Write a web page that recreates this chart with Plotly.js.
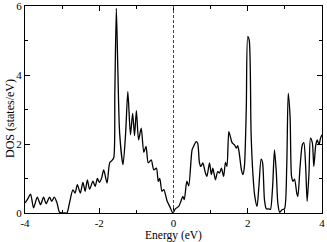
<!DOCTYPE html>
<html><head><meta charset="utf-8">
<script src="https://cdn.plot.ly/plotly-3.0.1.min.js"></script>
<style>html,body{margin:0;padding:0;background:#fff}</style>
</head><body><div id="chart" style="width:327px;height:242px"></div>
<script>
const energy = [-4.0,-3.93,-3.85,-3.77,-3.67,-3.58,-3.5,-3.43,-3.34,-3.28,-3.21,-3.14,-3.07,-3.0,-2.93,-2.87,-2.8,-2.71,-2.65,-2.59,-2.51,-2.44,-2.38,-2.32,-2.26,-2.17,-2.11,-2.05,-2.0,-1.94,-1.88,-1.79,-1.72,-1.66,-1.61,-1.58,-1.54,-1.5,-1.45,-1.36,-1.29,-1.23,-1.16,-1.1,-1.05,-1.0,-0.94,-0.87,-0.8,-0.74,-0.68,-0.6,-0.53,-0.46,-0.41,-0.37,-0.31,-0.26,-0.17,-0.08,-0.02,0.05,0.14,0.2,0.25,0.29,0.36,0.41,0.5,0.54,0.61,0.65,0.7,0.74,0.79,0.86,0.9,0.97,1.02,1.06,1.13,1.19,1.24,1.29,1.35,1.4,1.44,1.49,1.53,1.58,1.64,1.69,1.73,1.77,1.83,1.87,1.91,1.96,2.0,2.04,2.09,2.14,2.19,2.25,2.3,2.36,2.4,2.45,2.5,2.57,2.61,2.67,2.72,2.77,2.81,2.86,2.93,2.99,3.05,3.09,3.14,3.18,3.22,3.26,3.32,3.35,3.41,3.47,3.51,3.56,3.6,3.65,3.69,3.74,3.78,3.83,3.87,3.92,3.96,4.0];
const dos = [0.29,0.4,0.55,0.15,0.46,0.24,0.46,0.27,0.46,0.34,0.46,0.3,0.02,0.0,0.0,0.0,0.3,0.67,0.58,0.82,0.58,0.89,0.63,0.96,0.69,0.92,0.77,1.0,0.89,1.0,1.25,0.87,1.45,1.52,1.6,3.5,5.93,4.2,2.3,1.4,2.3,3.52,2.27,2.89,2.24,2.97,2.12,2.46,1.76,1.93,1.45,1.54,1.25,1.3,0.92,1.0,0.63,0.68,0.34,0.14,0.0,0.12,0.19,0.34,0.48,0.39,0.92,0.79,1.83,1.93,2.07,2.03,1.45,1.35,1.45,1.16,1.06,1.45,1.11,1.3,0.96,1.2,1.16,1.3,1.06,1.47,1.35,2.36,2.22,2.03,1.98,1.88,1.95,1.74,1.25,1.11,1.35,3.0,5.11,5.0,2.3,1.11,0.48,0.19,0.77,1.56,1.45,0.39,0.12,0.12,0.1,0.77,1.83,1.16,0.29,0.02,0.1,0.12,1.35,3.47,2.8,1.06,0.92,0.98,0.58,0.48,1.35,1.98,2.04,1.35,0.34,1.16,2.17,2.03,1.35,1.95,2.12,1.98,2.17,2.27];
const xTicks = [-4,-2,0,2,4];
const yTicks = [0,2,4,6];
const xTitle = 'Energy (eV)';
const yTitle = 'DOS (states/eV)';

const family = '"Liberation Serif", "Times New Roman", serif';
const tickFont = {family:family, size:11, color:'#000'};
const titleFont = {family:family, size:12, color:'#000'};
const xTitleFont = {family:family, size:11.5, color:'#000'};
const trace = {x:energy, y:dos, type:'scatter', mode:'lines', cliponaxis:false,
  line:{color:'#000', width:1.3, shape:'spline', smoothing:0.7}, hoverinfo:'skip'};
const axisBase = {showline:true, linecolor:'#000', linewidth:1, mirror:'ticks',
  ticks:'inside', ticklen:5, tickwidth:1, tickcolor:'#000', showgrid:false, zeroline:false,
  tickfont:tickFont, ticklabeloverflow:'allow', ticklabelstandoff:0};
const minor = {dtick:1, tick0:0, ticks:'inside', ticklen:3, tickcolor:'#000', showgrid:false};
const layout = {
  width:327, height:242,
  margin:{l:25, r:5, t:6, b:29},
  paper_bgcolor:'#fff', plot_bgcolor:'#fff',
  showlegend:false,
  font:tickFont,
  xaxis:Object.assign({}, axisBase, {range:[-4,4], tickmode:'array', tickvals:xTicks,
    ticktext:xTicks.map(String), minor:minor}),
  yaxis:Object.assign({}, axisBase, {range:[0,6], tickmode:'array', tickvals:yTicks,
    ticktext:yTicks.map(String), minor:minor}),
  annotations:[
    {text:xTitle, xref:'paper', yref:'paper', x:0.5, y:-0.108,
     xanchor:'center', yanchor:'middle', showarrow:false, font:xTitleFont, borderpad:0},
    {text:yTitle, xref:'paper', yref:'paper', x:-0.05, y:0.455,
     xanchor:'center', yanchor:'middle', textangle:-90, showarrow:false, font:titleFont}],
  shapes:[{type:'line', xref:'x', yref:'paper', x0:0, x1:0, y0:0, y1:1,
    line:{color:'#444', width:1, dash:'3px,2px'}}]
};
Plotly.newPlot('chart',[trace],layout,{staticPlot:true, displayModeBar:false});
</script></body></html>
